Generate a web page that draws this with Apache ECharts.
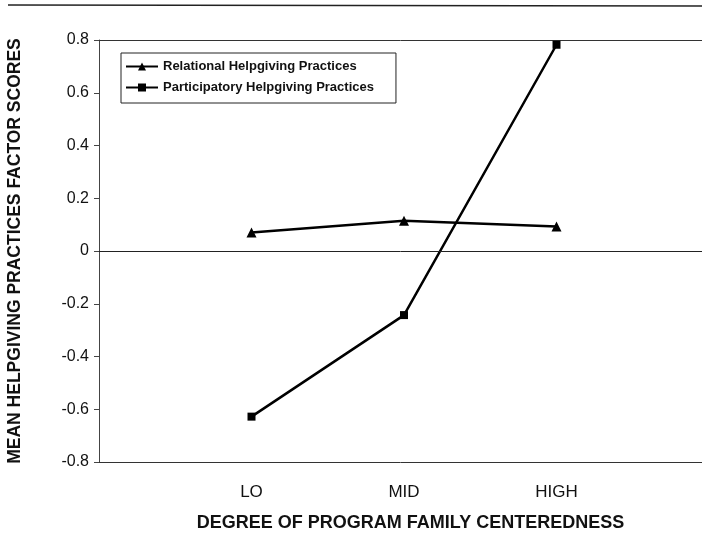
<!DOCTYPE html>
<html>
<head>
<meta charset="utf-8">
<script src="https://cdn.jsdelivr.net/npm/echarts@6/dist/echarts.min.js"></script>
<style>
html,body{margin:0;padding:0;background:#fff;}
#chart{width:702px;height:538px;}
</style>
</head>
<body>
<div id="chart"></div>
<script>
const categories = ['LO', 'MID', 'HIGH'];
const relational = [0.07, 0.115, 0.093];
const participatory = [-0.628, -0.243, 0.782];
const seriesNames = ['Relational Helpgiving Practices', 'Participatory Helpgiving Practices'];
const yTicks = { min: -0.8, max: 0.8, interval: 0.2 };

const FONT = '"Liberation Sans", Arial, sans-serif';
const toPoints = arr => arr.map((v, i) => [i + 1, v]);
const chart = echarts.init(document.getElementById('chart'), null, { renderer: 'canvas' });

chart.setOption({
  backgroundColor: '#fff',
  animation: false,
  graphic: [{
    type: 'line',
    shape: { x1: 8, y1: 5, x2: 702, y2: 6 },
    style: { stroke: '#222', lineWidth: 1.5 }
  }],
  grid: { left: 99, top: 40, bottom: 76, right: 0, outerBoundsMode: 'none', containLabel: false },
  legend: {
    orient: 'vertical',
    left: 121, top: 53,
    padding: [7, 22, 9, 4],
    itemGap: 8,
    itemWidth: 32, itemHeight: 10,
    borderColor: '#222', borderWidth: 1,
    backgroundColor: '#fff',
    textStyle: { fontFamily: FONT, fontWeight: 'bold', fontSize: 13, color: '#111' },
    data: seriesNames
  },
  xAxis: [{
    type: 'value',
    min: 0, max: 3.954, interval: 1,
    axisLine: { show: true, onZero: false, lineStyle: { color: '#333', width: 1 } },
    axisTick: { show: false },
    axisLabel: {
      fontFamily: FONT, fontSize: 17, color: '#111', margin: 22,
      showMaxLabel: false, showMinLabel: false,
      formatter: v => categories[Math.round(v) - 1] || ''
    },
    splitLine: { show: false },
    name: 'DEGREE OF PROGRAM FAMILY CENTEREDNESS',
    nameLocation: 'middle',
    nameGap: 52,
    nameTextStyle: { fontFamily: FONT, fontWeight: 'bold', fontSize: 18, color: '#111', padding: [0, 0, 0, 20] }
  }, {
    type: 'value',
    position: 'top',
    min: 0, max: 3.954,
    axisLine: { show: true, onZero: false, lineStyle: { color: '#333', width: 1 } },
    axisTick: { show: false },
    axisLabel: { show: false },
    splitLine: { show: false }
  }],
  yAxis: {
    type: 'value',
    min: yTicks.min, max: yTicks.max, interval: yTicks.interval,
    axisLine: { show: true, lineStyle: { color: '#444', width: 1 } },
    axisTick: { show: true, length: 5, lineStyle: { color: '#444' } },
    axisLabel: {
      fontFamily: FONT, fontSize: 16, color: '#111', margin: 10,
      formatter: v => String(parseFloat(v.toFixed(1)))
    },
    splitLine: { show: false },
    name: 'MEAN HELPGIVING PRACTICES FACTOR SCORES',
    nameLocation: 'middle',
    nameGap: 75,
    nameTextStyle: { fontFamily: FONT, fontWeight: 'bold', fontSize: 17.5, color: '#111' }
  },
  series: [
    {
      name: seriesNames[0],
      type: 'line',
      data: toPoints(relational),
      symbol: 'triangle',
      symbolSize: 10,
      lineStyle: { color: '#000', width: 2.5 },
      itemStyle: { color: '#000' },
      markLine: {
        silent: true, symbol: 'none', label: { show: false },
        lineStyle: { color: '#222', width: 1, type: 'solid' },
        data: [{ yAxis: 0 }]
      }
    },
    {
      name: seriesNames[1],
      type: 'line',
      data: toPoints(participatory),
      symbol: 'rect',
      symbolSize: 8,
      lineStyle: { color: '#000', width: 2.5 },
      itemStyle: { color: '#000' }
    }
  ]
});
</script>
</body>
</html>
